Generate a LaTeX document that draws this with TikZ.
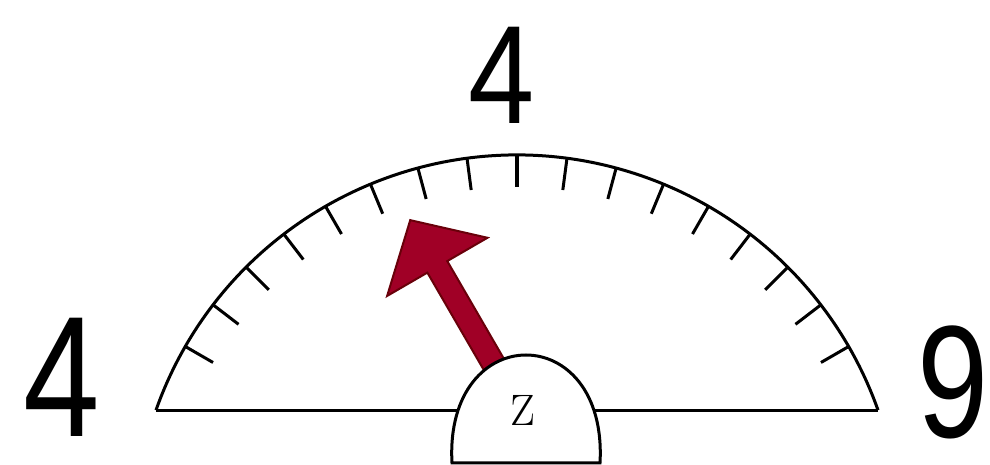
\documentclass[tikz,border=0pt]{standalone}
\usepackage{fontspec}
\usepackage{tikz}
\usetikzlibrary{calc}
\newfontfamily\handfont{Liberation Sans}
\definecolor{needleRed}{RGB}{160, 0, 38}
\definecolor{needleEdge}{RGB}{105, 0, 10}

\begin{document}
\begin{tikzpicture}[
    x=0.5pt, y=0.5pt,
    scaleLine/.style={draw=black, line width=1.5pt},
    tickMark/.style={draw=black, line width=1.5pt},
    midTick/.style={draw=black, line width=2pt},
    needle/.style={fill=needleRed, draw=needleEdge, line width=1pt, line join=miter},
    hub/.style={fill=white, draw=black, line width=1.5pt},
    hand/.style={font=\handfont\fontsize{#1}{#1}\selectfont, inner sep=0pt}
]
    \useasboundingbox (0,0) rectangle (990,465);

    \coordinate (c) at (517,-73);
    \coordinate (l) at ($(c)+(160.5:383)$);
    \coordinate (r) at ($(c)+(19.5:383)$);

    \draw[scaleLine] (l) arc[start angle=160.5, end angle=19.5, radius=191.5pt];
    \draw[scaleLine] (l) -- (r);
    \foreach \i in {-8,...,-1,1,2,...,8}
        \draw[tickMark] ($(c)+(90+7.5*\i:383)$) -- ($(c)+(90+7.5*\i:351)$);
    \draw[midTick] ($(c)+(90:383)$) -- ($(c)+(90:351)$);

    \coordinate (tail) at (500,90);
    \begin{scope}[shift={(tail)}, rotate=120.1]
        \draw[needle] (0,-11.5) -- (125,-11.5) -- (125,-58) -- (179,0) -- (125,58) -- (125,11.5) -- (0,11.5) -- cycle;
    \end{scope}

    \draw[hub] (452,2) .. controls (444,146) and (608,146) .. (600,2) -- cycle;
    \node (hubLabel) at (523,55) {\fontsize{22}{24}\selectfont Z};

    \node[hand=70] (topNum) at (502,390) {\scalebox{0.85}[1]{4}};
    \node[hand=86] (leftNum) at (62,88) {\scalebox{0.8}[1]{4}};
    \node[hand=80] (rightNum) at (953,83) {\scalebox{0.8}[1]{9}};
\end{tikzpicture}
\end{document}
